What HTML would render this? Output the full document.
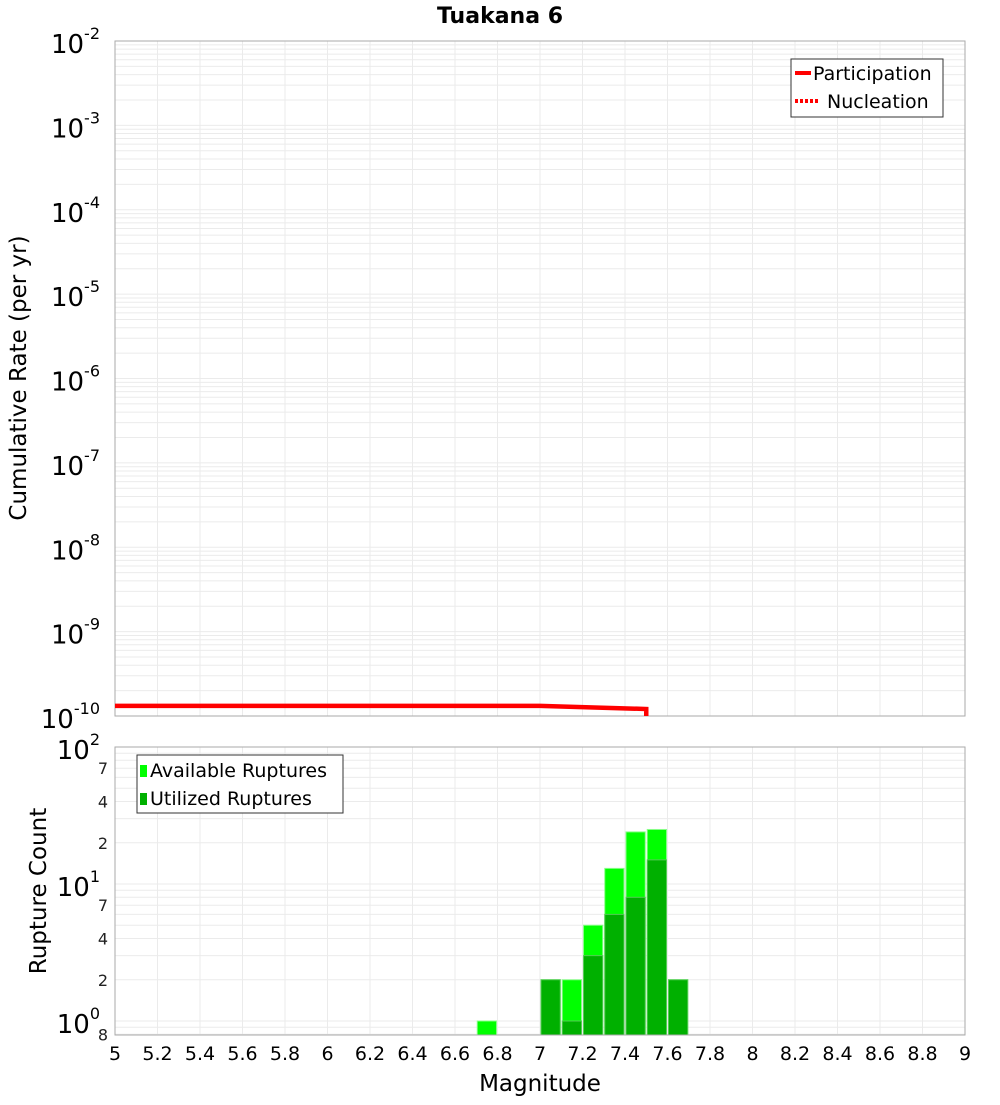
<!DOCTYPE html>
<html><head><meta charset="utf-8"><style>
body{margin:0;background:#fff;width:1000px;height:1100px;overflow:hidden;font-family:"Liberation Sans","DejaVu Sans",sans-serif}
</style></head><body>
<svg id="c" width="1000" height="1100" xmlns="http://www.w3.org/2000/svg" font-family="DejaVu Sans, Liberation Sans, sans-serif"></svg>
<script>
const lineMags=[5,7.0,7.5,7.5];
const lineRates=[1.32e-10,1.32e-10,1.21e-10,1e-10];
const barMags=[6.75,7.05,7.15,7.25,7.35,7.45,7.55,7.65];
const availCounts=[1,2,2,5,13,24,25,2];
const utilCounts=[0,2,1,3,6,8,15,2];
const xTicks=[5,5.2,5.4,5.6,5.8,6,6.2,6.4,6.6,6.8,7,7.2,7.4,7.6,7.8,8,8.2,8.4,8.6,8.8,9];
const topExps=[-2,-3,-4,-5,-6,-7,-8,-9,-10];

const svg=document.getElementById('c');const NS='http://www.w3.org/2000/svg';
function el(t,a,p){const e=document.createElementNS(NS,t);for(const k in a)e.setAttribute(k,a[k]);(p||svg).appendChild(e);return e;}
const X0=115,X1=965;const xs=m=>X0+(m-5)/4*(X1-X0);
const T0=41,T1=716;const ty=v=>T0+(-2-Math.log10(v))*(T1-T0)/8;
const B0=747,B1=1035,BD=137;const by=v=>B0+(2-Math.log10(v))*BD;

let t=el('text',{x:500,y:23,'text-anchor':'middle','font-size':22,'font-weight':'bold'});t.textContent='Tuakana 6';


const gt=el('g',{stroke:'#ebebeb','stroke-width':1});

for(let e=-10;e<-2;e++)for(let k=1;k<10;k++){const y=ty(k*Math.pow(10,e));el('line',{x1:X0,x2:X1,y1:y,y2:y},gt);}
xTicks.forEach(m=>el('line',{x1:xs(m),x2:xs(m),y1:T0,y2:T1},gt));
let r=el('rect',{x:X0,y:T0,width:X1-X0,height:T1-T0,fill:'none',stroke:'#aaa'});

topExps.forEach(e=>{const y=ty(Math.pow(10,e));const g=el('text',{x:100,y:y+12,'text-anchor':'end','font-size':26});

g.innerHTML='10<tspan dy="-14" font-size="16">'+e+'</tspan>';});
t=el('text',{x:0,y:0,'font-size':23,'text-anchor':'middle',transform:'translate(26,378) rotate(-90)'});t.textContent='Cumulative Rate (per yr)';

let pts=lineMags.map((m,i)=>xs(m)+','+Math.min(ty(lineRates[i]),T1)).join(' ');
let pl=el('polyline',{points:pts,fill:'none',stroke:'#f00','stroke-width':4.5});

const lg=el('g',{});
el('rect',{x:791,y:59,width:152,height:58,fill:'#fff',stroke:'#333'},lg);
el('line',{x1:795,x2:811,y1:73,y2:73,stroke:'#f00','stroke-width':4},lg);
el('line',{x1:795,x2:819,y1:101,y2:101,stroke:'#f00','stroke-width':4,'stroke-dasharray':'3,2'},lg);
t=el('text',{x:813,y:80,'font-size':19},lg);t.textContent='Participation';
t=el('text',{x:827,y:108,'font-size':19},lg);t.textContent='Nucleation';

const gb=el('g',{stroke:'#ebebeb','stroke-width':1});

for(let e=-1;e<2;e++)for(let k=1;k<10;k++){const y=by(k*Math.pow(10,e));if(y>=B0&&y<=B1)el('line',{x1:X0,x2:X1,y1:y,y2:y},gb);}
xTicks.forEach(m=>el('line',{x1:xs(m),x2:xs(m),y1:B0,y2:B1},gb));
barMags.forEach((m,i)=>{
 const xl=xs(m-0.05)+1,w=xs(m+0.05)-xs(m-0.05)-2;
 if(availCounts[i]>0){const y=by(availCounts[i]);const b=el('rect',{x:xl,y:y,width:w,height:B1-y,fill:'#00ff00',stroke:'#8f8','stroke-width':1});
 }
 if(utilCounts[i]>0){const y=by(utilCounts[i]);const b=el('rect',{x:xl,y:y,width:w,height:B1-y,fill:'#00b000',stroke:'#5c5','stroke-width':1});
 }
});
r=el('rect',{x:X0,y:B0,width:X1-X0,height:B1-B0,fill:'none',stroke:'#aaa'});

[[2,100],[1,10],[0,1]].forEach(([e,v])=>{const y=by(v);const g=el('text',{x:100,y:y+12,'text-anchor':'end','font-size':26});

g.innerHTML='10<tspan dy="-14" font-size="16">'+e+'</tspan>';});
[[7,70],[4,40],[2,20],[7,7],[4,4],[2,2],[8,0.8]].forEach(([l,v])=>{const g=el('text',{x:108,y:by(v)+6,'text-anchor':'end','font-size':16,fill:'#222'});
g.textContent=l;});
t=el('text',{x:0,y:0,'font-size':23,'text-anchor':'middle',transform:'translate(46,891) rotate(-90)'});t.textContent='Rupture Count';

const lb=el('g',{});
el('rect',{x:137,y:755,width:206,height:58,fill:'#fff',stroke:'#333'},lb);
el('rect',{x:140,y:765,width:7,height:12,fill:'#00ff00'},lb);
el('rect',{x:140,y:793,width:7,height:12,fill:'#00b000'},lb);
t=el('text',{x:150,y:777,'font-size':19},lb);t.textContent='Available Ruptures';
t=el('text',{x:150,y:805,'font-size':19},lb);t.textContent='Utilized Ruptures';
xTicks.forEach(m=>{const g=el('text',{x:xs(m),y:1060,'text-anchor':'middle','font-size':19});
g.textContent=String(m);});
t=el('text',{x:540,y:1091,'text-anchor':'middle','font-size':23});t.textContent='Magnitude';

</script>
</body></html>
